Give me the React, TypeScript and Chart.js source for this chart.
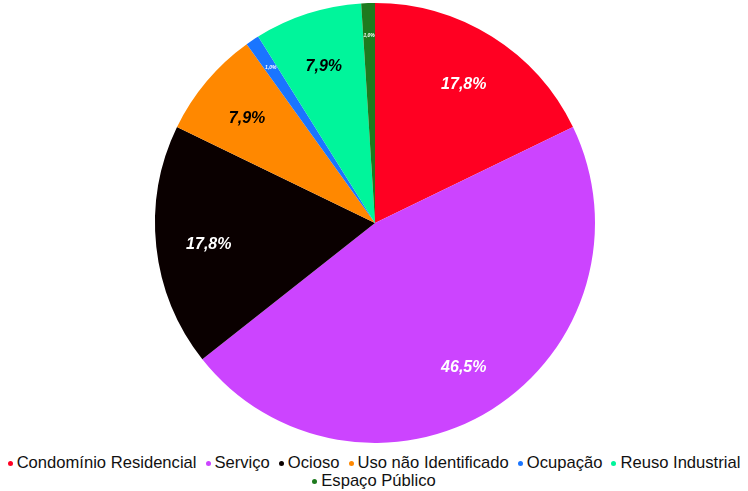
import React, { useEffect, useRef } from "react";
import { Chart, registerables } from "chart.js";

Chart.register(...registerables);

const categories = [
  "Condomínio Residencial",
  "Serviço",
  "Ocioso",
  "Uso não Identificado",
  "Ocupação",
  "Reuso Industrial",
  "Espaço Público",
];
const values = [17.8, 46.5, 17.8, 7.9, 1.0, 7.9, 1.0];
const labelTexts = ["17,8%", "46,5%", "17,8%", "7,9%", "1,0%", "7,9%", "1,0%"];
const colors = ["#ff0022", "#cc44ff", "#0a0000", "#ff8800", "#1a75ff", "#00f59b", "#1e7a1e"];
const labelColors = ["#ffffff", "#ffffff", "#ffffff", "#000000", "#ffffff", "#000000", "#ffffff"];

const FONT = "'Liberation Sans', Arial, sans-serif";

const labelPlugin = {
  id: "sliceLabels",
  afterDatasetsDraw(chart: any) {
    const ctx = chart.ctx;
    const meta = chart.getDatasetMeta(0);
    meta.data.forEach((arc: any, i: number) => {
      const { x, y, startAngle, endAngle, outerRadius } = arc.getProps(
        ["x", "y", "startAngle", "endAngle", "outerRadius"],
        true
      );
      const mid = (startAngle + endAngle) / 2;
      const small = values[i] < 3;
      const r = outerRadius * (small ? 0.85 : 0.76);
      ctx.save();
      ctx.fillStyle = labelColors[i];
      ctx.font = small ? `bold italic 5px ${FONT}` : `bold italic 16px ${FONT}`;
      ctx.textAlign = "center";
      ctx.textBaseline = "middle";
      ctx.fillText(labelTexts[i], x + Math.cos(mid) * r, y + Math.sin(mid) * r + (small ? 0 : 3));
      ctx.restore();
    });
  },
};

export default function App() {
  const ref = useRef<HTMLCanvasElement>(null);
  useEffect(() => {
    if (!ref.current) return;
    const chart = new Chart(ref.current, {
      type: "pie",
      data: {
        labels: categories,
        datasets: [
          {
            data: values,
            backgroundColor: colors,
            borderWidth: 0,
          },
        ],
      },
      options: {
        animation: false,
        responsive: true,
        maintainAspectRatio: false,
        layout: { padding: { top: 3, bottom: 7, left: 2, right: 0 } },
        plugins: {
          tooltip: { enabled: false },
          legend: { display: false },
        },
      },
      plugins: [labelPlugin],
    });
    return () => chart.destroy();
  }, []);
  return (
    <div style={{ position: "absolute", left: 0, top: 0, width: 748, height: 491, background: "#fff" }}>
      <div style={{ position: "relative", width: 748, height: 450 }}>
        <canvas ref={ref} />
      </div>
      <div
        style={{
          position: "absolute",
          left: 0,
          top: 454,
          width: 748,
          display: "flex",
          flexWrap: "wrap",
          justifyContent: "center",
          fontFamily: FONT,
          fontSize: 16.6,
          lineHeight: "18px",
          color: "#111",
        }}
      >
        {categories.map((c, i) => (
          <span
            key={c}
            style={{ display: "inline-flex", alignItems: "center", marginRight: i === 5 || i === 6 ? 0 : 9, whiteSpace: "nowrap" }}
          >
            <span
              style={{
                display: "inline-block",
                width: 5,
                height: 5,
                borderRadius: "50%",
                background: colors[i],
                marginRight: 4,
                marginTop: 1,
              }}
            />
            {c}
          </span>
        ))}
      </div>
    </div>
  );
}
